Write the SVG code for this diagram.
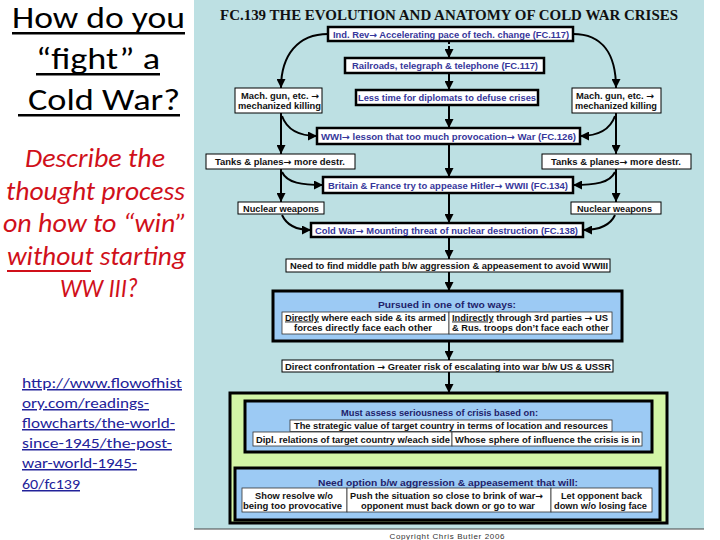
<svg xmlns="http://www.w3.org/2000/svg" width="720" height="540" viewBox="0 0 720 540">
<defs>
<marker id="ah" viewBox="0 0 10 10" refX="10" refY="5" markerWidth="9" markerHeight="9" markerUnits="userSpaceOnUse" orient="auto"><path d="M0,0 L10,5 L0,10 z" fill="#000"/></marker>
<style>
.thick{fill:#fff;stroke:#000;stroke-width:2.5}
.thin{fill:#fff;stroke:#000;stroke-width:1}
.cell{fill:#fff;stroke:#333;stroke-width:0.8}
.bluebox{fill:#9ccaf4;stroke:#000;stroke-width:3}
.greenbox{fill:#d3f5a6;stroke:#000;stroke-width:3}
.bt{font-family:"Liberation Sans",Arial,sans-serif;font-weight:bold;font-size:9px;fill:#36369a}
.kt{font-family:"Liberation Sans",Arial,sans-serif;font-weight:bold;font-size:9px;fill:#111}
.hd{font-family:"Liberation Sans",Arial,sans-serif;font-weight:bold;font-size:9.5px;fill:#22226a}
.ar{font-family:"DejaVu Sans",sans-serif;font-weight:bold}
.con{fill:none;stroke:#000;stroke-width:2;marker-end:url(#ah)}
.h1{font-family:Carlito,Lato,"Liberation Sans",sans-serif;font-size:30px;fill:#000}
.red{font-family:Carlito,Lato,"Liberation Sans",sans-serif;font-style:italic;font-size:26px;fill:#d0101a}
.lnk{font-family:Carlito,Lato,"Liberation Sans",sans-serif;font-size:15px;fill:#22229a;text-decoration:underline}
</style>
</defs>
<rect x="0" y="0" width="720" height="540" fill="#fff"/>
<rect x="194" y="0" width="510" height="529" fill="#bde0e3"/>
<line x1="194" y1="529" x2="704" y2="529" stroke="#444" stroke-width="1"/>
<text x="447" y="539" text-anchor="middle" font-family="Liberation Sans,Arial,sans-serif" font-size="8" fill="#333" textLength="115">Copyright Chris Butler 2006</text>

<g id="left-heading">
<text class="h1" x="12" y="28" textLength="173" lengthAdjust="spacingAndGlyphs">How do you</text>
<rect x="12" y="32" width="173" height="2.5" fill="#000"/>
<text class="h1" x="36" y="69" textLength="124" lengthAdjust="spacingAndGlyphs">“fight” a</text>
<rect x="36" y="73" width="124" height="2.5" fill="#000"/>
<text class="h1" x="28" y="110" textLength="152" lengthAdjust="spacingAndGlyphs">Cold War?</text>
<rect x="18" y="114" width="162" height="2.5" fill="#000"/>
</g>
<g id="left-question">
<text class="red" x="25" y="167" textLength="140" lengthAdjust="spacingAndGlyphs">Describe the</text>
<text class="red" x="6" y="200" textLength="179" lengthAdjust="spacingAndGlyphs">thought process</text>
<text class="red" x="3" y="232" textLength="184" lengthAdjust="spacingAndGlyphs">on how to “win”</text>
<text class="red" x="7" y="265" textLength="179" lengthAdjust="spacingAndGlyphs">without starting</text>
<rect x="7" y="270" width="84" height="2" fill="#d0101a"/>
<text class="red" x="60" y="297" textLength="78" lengthAdjust="spacingAndGlyphs">WW III?</text>
</g>
<g id="left-link">
<text class="lnk" x="22" y="388" textLength="160" lengthAdjust="spacingAndGlyphs">http://www.flowofhist</text>
<text class="lnk" x="22" y="408" textLength="127" lengthAdjust="spacingAndGlyphs">ory.com/readings-</text>
<text class="lnk" x="22" y="428" textLength="153" lengthAdjust="spacingAndGlyphs">flowcharts/the-world-</text>
<text class="lnk" x="22" y="448" textLength="150" lengthAdjust="spacingAndGlyphs">since-1945/the-post-</text>
<text class="lnk" x="22" y="468" textLength="115" lengthAdjust="spacingAndGlyphs">war-world-1945-</text>
<text class="lnk" x="22" y="489" textLength="58" lengthAdjust="spacingAndGlyphs">60/fc139</text>
</g>

<text x="220" y="20" font-family="Liberation Serif,'Times New Roman',serif" font-weight="bold" font-size="15" fill="#111" textLength="458" lengthAdjust="spacingAndGlyphs">FC.139 THE EVOLUTION AND ANATOMY OF COLD WAR CRISES</text>

<g id="connectors">
<line class="con" x1="449" y1="41" x2="449" y2="58" stroke-dasharray="3,2"/>
<line class="con" x1="449" y1="73" x2="449" y2="90"/>
<line class="con" x1="449" y1="105" x2="449" y2="128"/>
<line class="con" x1="449" y1="144" x2="449" y2="177"/>
<line class="con" x1="449" y1="193" x2="449" y2="223"/>
<line class="con" x1="449" y1="237" x2="449" y2="259"/>
<line class="con" x1="449" y1="272" x2="449" y2="291"/>
<line class="con" x1="449" y1="341" x2="449" y2="360"/>
<line class="con" x1="449" y1="372" x2="449" y2="393"/>
<line class="con" x1="449" y1="452" x2="449" y2="468"/>
<path class="con" d="M328,34 C298,34 281,55 281,88"/>
<path class="con" d="M573,34 C603,34 616,55 616,88"/>
<line class="con" x1="281" y1="113" x2="281" y2="154"/>
<line class="con" x1="616" y1="113" x2="616" y2="154"/>
<path class="con" d="M282,116 C287,130 300,136 317,136"/>
<path class="con" d="M615,116 C610,130 597,136 580,136"/>
<line class="con" x1="281" y1="169" x2="281" y2="202"/>
<line class="con" x1="616" y1="169" x2="616" y2="202"/>
<path class="con" d="M282,172 C287,183 302,185 323,185"/>
<path class="con" d="M615,172 C610,183 595,185 573,185"/>
<path class="con" d="M282,215 C287,226 297,230 311,230"/>
<path class="con" d="M615,215 C610,226 598,230 583,230"/>
</g>

<g id="indrev"><rect class="thick" x="328" y="27" width="245" height="14"/><text class="bt" x="333" y="37.5" textLength="236" lengthAdjust="spacingAndGlyphs">Ind. Rev<tspan class="ar">→</tspan> Accelerating pace of tech. change (FC.117)</text></g>
<g id="railroads"><rect class="thick" x="345" y="58" width="199" height="15"/><text class="bt" x="352" y="68.5" textLength="186" lengthAdjust="spacingAndGlyphs">Railroads, telegraph &amp; telephone (FC.117)</text></g>
<g id="lesstime"><rect class="thick" x="356" y="90" width="182" height="15"/><text class="bt" x="358" y="101" textLength="178" lengthAdjust="spacingAndGlyphs">Less time for diplomats to defuse crises</text></g>
<g id="machL"><rect class="thin" x="235" y="88" width="87" height="25"/><text class="kt" x="241" y="98.5" textLength="78" lengthAdjust="spacingAndGlyphs">Mach. gun, etc. <tspan class="ar">→</tspan></text><text class="kt" x="238" y="109" textLength="83" lengthAdjust="spacingAndGlyphs">mechanized killing</text></g>
<g id="machR"><rect class="thin" x="572" y="88" width="89" height="25"/><text class="kt" x="576" y="98.5" textLength="78" lengthAdjust="spacingAndGlyphs">Mach. gun, etc. <tspan class="ar">→</tspan></text><text class="kt" x="575" y="109" textLength="82" lengthAdjust="spacingAndGlyphs">mechanized killing</text></g>
<g id="wwi"><rect class="thick" x="317" y="128" width="263" height="16"/><text class="bt" x="321" y="139.5" textLength="255" lengthAdjust="spacingAndGlyphs">WWI<tspan class="ar">→</tspan> lesson that too much provocation<tspan class="ar">→</tspan> War (FC.126)</text></g>
<g id="tanksL"><rect class="thin" x="206" y="154" width="149" height="15"/><text class="kt" x="215" y="165" textLength="130" lengthAdjust="spacingAndGlyphs">Tanks &amp; planes<tspan class="ar">→</tspan> more destr.</text></g>
<g id="tanksR"><rect class="thin" x="542" y="154" width="149" height="15"/><text class="kt" x="551" y="165" textLength="130" lengthAdjust="spacingAndGlyphs">Tanks &amp; planes<tspan class="ar">→</tspan> more destr.</text></g>
<g id="britain"><rect class="thick" x="323" y="177" width="250" height="16"/><text class="bt" x="328" y="188.5" textLength="240" lengthAdjust="spacingAndGlyphs">Britain &amp; France try to appease Hitler<tspan class="ar">→</tspan>  WWII (FC.134)</text></g>
<g id="nucL"><rect class="thin" x="238" y="202" width="86" height="12"/><text class="kt" x="243" y="211.5" textLength="76" lengthAdjust="spacingAndGlyphs">Nuclear weapons</text></g>
<g id="nucR"><rect class="thin" x="571" y="202" width="90" height="12"/><text class="kt" x="577" y="211.5" textLength="75" lengthAdjust="spacingAndGlyphs">Nuclear weapons</text></g>
<g id="coldwar"><rect class="thick" x="311" y="223" width="272" height="14"/><text class="bt" x="315" y="233.5" textLength="263" lengthAdjust="spacingAndGlyphs">Cold War<tspan class="ar">→</tspan> Mounting threat of nuclear destruction  (FC.138)</text></g>
<g id="need"><rect class="thin" x="286" y="259" width="324" height="13"/><text class="kt" x="290" y="269" textLength="318" lengthAdjust="spacingAndGlyphs">Need to find middle path b/w aggression &amp; appeasement to avoid WWIII</text></g>

<g id="pursued">
<rect class="bluebox" x="273" y="291" width="349" height="50"/>
<text class="hd" x="378" y="307.5" textLength="138" lengthAdjust="spacingAndGlyphs">Pursued in one of two ways:</text>
<rect class="cell" x="282" y="312" width="167" height="22"/>
<rect class="cell" x="449" y="312" width="163" height="22"/>
<text class="kt" x="285" y="320.5" textLength="161" lengthAdjust="spacingAndGlyphs"><tspan text-decoration="underline">Directly</tspan> where each side &amp; its armed</text>
<text class="kt" x="294" y="331" textLength="138" lengthAdjust="spacingAndGlyphs">forces directly face each other</text>
<text class="kt" x="452" y="320.5" textLength="156" lengthAdjust="spacingAndGlyphs"><tspan text-decoration="underline">Indirectly</tspan> through 3rd parties <tspan class="ar">→</tspan> US</text>
<text class="kt" x="452" y="331" textLength="157" lengthAdjust="spacingAndGlyphs">&amp; Rus. troops don’t face each other</text>
</g>
<g id="direct"><rect class="thin" x="282" y="360" width="331" height="12"/><text class="kt" x="285" y="369.5" textLength="326" lengthAdjust="spacingAndGlyphs">Direct confrontation <tspan class="ar">→</tspan> Greater risk of escalating into war b/w US &amp; USSR</text></g>

<g id="assess-group">
<rect class="greenbox" x="230" y="393" width="437" height="130"/>
</g>
<g id="assess">
<rect class="bluebox" x="245" y="401" width="407" height="51"/>
<text class="hd" x="341" y="415.5" textLength="197" lengthAdjust="spacingAndGlyphs">Must assess seriousness of crisis based on:</text>
<rect class="cell" x="290" y="420" width="322" height="11.5"/>
<text class="kt" x="294" y="429" textLength="314" lengthAdjust="spacingAndGlyphs">The strategic value of target country in terms of location and resources</text>
<rect class="cell" x="253" y="432" width="199" height="14"/>
<rect class="cell" x="452" y="432" width="190" height="14"/>
<text class="kt" x="256" y="442.5" textLength="194" lengthAdjust="spacingAndGlyphs">Dipl. relations of target country w/each side</text>
<text class="kt" x="455" y="442.5" textLength="185" lengthAdjust="spacingAndGlyphs">Whose sphere of influence the crisis is in</text>
</g>
<g id="option">
<rect class="bluebox" x="235" y="468" width="425" height="52"/>
<text class="hd" x="318" y="485.5" textLength="260" lengthAdjust="spacingAndGlyphs">Need option b/w aggression &amp; appeasement that will:</text>
<rect class="cell" x="242" y="488" width="105" height="24"/>
<rect class="cell" x="347" y="488" width="204" height="24"/>
<rect class="cell" x="551" y="488" width="101" height="24"/>
<text class="kt" x="255" y="498.5" textLength="78" lengthAdjust="spacingAndGlyphs">Show resolve w/o</text>
<text class="kt" x="243" y="509" textLength="99" lengthAdjust="spacingAndGlyphs">being too provocative</text>
<text class="kt" x="350" y="498.5" textLength="193" lengthAdjust="spacingAndGlyphs">Push the situation so close to brink of war<tspan class="ar">→</tspan></text>
<text class="kt" x="361" y="509" textLength="174" lengthAdjust="spacingAndGlyphs">opponent must back down or go to war</text>
<text class="kt" x="561" y="498.5" textLength="81" lengthAdjust="spacingAndGlyphs">Let opponent back</text>
<text class="kt" x="554" y="509" textLength="93" lengthAdjust="spacingAndGlyphs">down w/o losing face</text>
</g>
</svg>
